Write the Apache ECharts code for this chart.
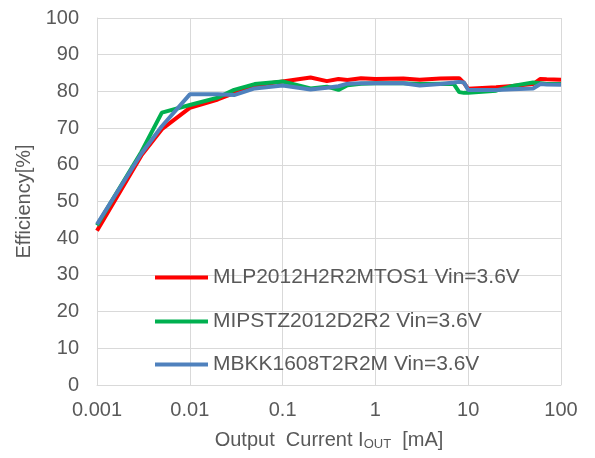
<!DOCTYPE html>
<html>
<head>
    <meta charset="utf-8">
    <title>Efficiency</title>
    <style>
        body { margin: 0; background: #fff; }
    </style>
</head>
<body>
    <div id="main" style="width: 595px;height:458px;"></div>
</body>
<script src="https://cdn.jsdelivr.net/npm/echarts@6/dist/echarts.min.js"></script>
<script>
// output current [mA]
var currentMA = [0.001, 0.003, 0.005, 0.01, 0.02, 0.03, 0.05, 0.1, 0.2, 0.3, 0.4, 0.5, 0.7, 1, 2, 3, 5, 7, 8, 9, 10, 20, 30, 50, 60, 70, 100];

// efficiency [%]
var effMLP = [42, 62.5, 69.7, 75.5, 77.8, 79.5, 81.6, 82.7, 83.8, 82.8, 83.4, 83.1, 83.6, 83.4, 83.5, 83.2, 83.5, 83.6, 83.6, 82.3, 80.7, 81.1, 81.5, 82.0, 83.4, 83.3, 83.2];
var effMIPSTZ = [43.5, 63.5, 74.2, 76.3, 78.3, 80.4, 82.0, 82.7, 80.8, 81.3, 80.4, 81.7, 82.1, 82.2, 82.2, 82.0, 82.1, 82.0, 79.8, 79.6, 79.6, 80.2, 81.5, 82.4, 82.2, 82.0, 82.0];
var effMBKK = [43.8, 63, 70.5, 79.2, 79.2, 79.0, 80.8, 81.6, 80.5, 81.0, 81.4, 82.1, 82.2, 82.2, 82.2, 81.6, 82.0, 82.4, 82.6, 82.4, 80.4, 80.4, 80.6, 80.8, 82.0, 81.9, 81.8];

var seriesNames = ['MLP2012H2R2MTOS1 Vin=3.6V', 'MIPSTZ2012D2R2 Vin=3.6V', 'MBKK1608T2R2M Vin=3.6V'];
var seriesColors = ['#ff0000', '#00b050', '#4f81bd'];
var xTickLabels = ['0.001', '0.01', '0.1', '1', '10', '100'];

var textColor = '#595959';
var gridColor = '#d9d9d9';
var font = 'Liberation Sans, Arial, sans-serif';

function pairs(ys) {
    var out = [];
    for (var i = 0; i < currentMA.length; i++) {
        out.push([currentMA[i], ys[i]]);
    }
    return out;
}

var allData = [effMLP, effMIPSTZ, effMBKK];
var legendTops = [267, 311, 354];

var seriesData = [];
var legends = [];
for (var i = 0; i < seriesNames.length; i++) {
    seriesData.push({
        name: seriesNames[i],
        type: 'line',
        data: pairs(allData[i]),
        showSymbol: false,
        color: seriesColors[i],
        lineStyle: { width: 4, color: seriesColors[i] }
    });
    legends.push({
        data: [seriesNames[i]],
        left: 155,
        top: legendTops[i],
        padding: 0,
        icon: 'rect',
        itemWidth: 53,
        itemHeight: 4,
        textStyle: { color: textColor, fontSize: 21, fontFamily: font }
    });
}

var myChart = echarts.init(document.getElementById('main'));

myChart.setOption({
    animation: false,
    legend: legends,
    grid: {
        left: 97,
        right: 34,
        top: 18,
        bottom: 73
    },
    xAxis: {
        type: 'log',
        logBase: 10,
        min: 0.001,
        max: 100,
        name: '{a|Output  Current I}{b|OUT}{a|  [mA]}',
        nameLocation: 'middle',
        nameGap: 44,
        nameTextStyle: {
            rich: {
                a: { fontSize: 20, color: textColor, fontFamily: font, lineHeight: 22 },
                b: { fontSize: 13, color: textColor, fontFamily: font, lineHeight: 13, verticalAlign: 'bottom' }
            }
        },
        axisLine: { show: true, lineStyle: { color: gridColor, width: 1 } },
        axisTick: { show: false },
        minorTick: { show: false },
        axisLabel: {
            color: textColor,
            fontSize: 20,
            fontFamily: font,
            margin: 15,
            formatter: function (v) {
                return xTickLabels[Math.round(Math.log10(v)) + 3];
            }
        },
        splitLine: { show: true, lineStyle: { color: gridColor, width: 1 } }
    },
    yAxis: {
        type: 'value',
        min: 0,
        max: 100,
        interval: 10,
        name: 'Efficiency[%]',
        nameLocation: 'middle',
        nameGap: 63,
        nameTextStyle: { color: textColor, fontSize: 20, fontFamily: font },
        axisLine: { show: true, lineStyle: { color: gridColor, width: 1 } },
        axisTick: { show: false },
        axisLabel: { color: textColor, fontSize: 20, fontFamily: font, margin: 18 },
        splitLine: { show: true, lineStyle: { color: gridColor, width: 1 } }
    },
    series: seriesData
});
</script>
</html>
